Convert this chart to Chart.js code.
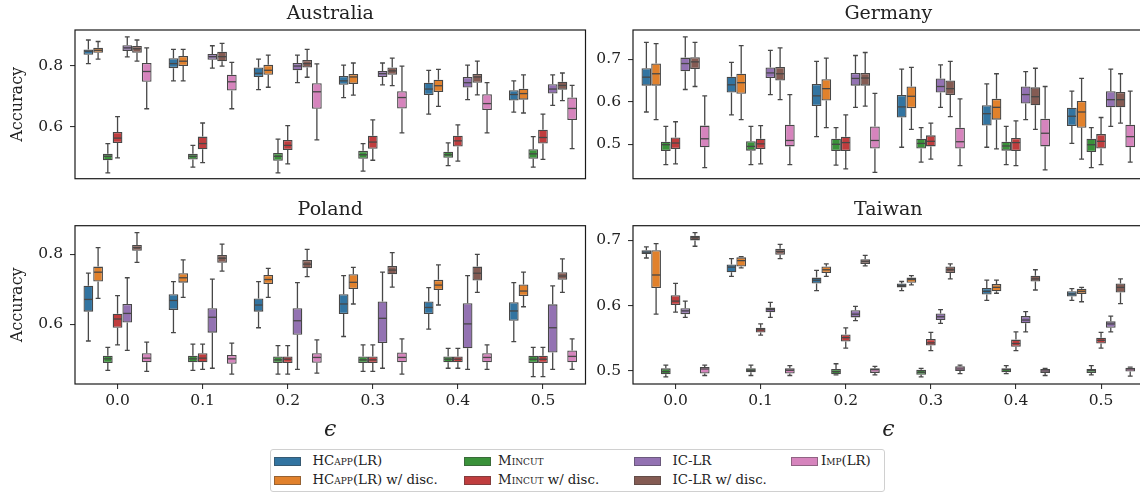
<!DOCTYPE html>
<html>
<head>
<meta charset="utf-8">
<script src="https://cdn.jsdelivr.net/npm/chart.js@4.4.1/dist/chart.umd.min.js"></script>
<style>
html,body{margin:0;padding:0;background:#fff;}
body{width:1140px;height:492px;overflow:hidden;position:relative;font-family:'DejaVu Serif',serif;color:#222;}
canvas{position:absolute;}
#legend{position:absolute;left:270px;top:449px;width:613px;height:41px;border:1px solid #d0d0d0;border-radius:3px;background:#fff;}
.sw{position:absolute;width:27px;height:9px;box-sizing:border-box;border:1px solid rgba(60,60,60,0.45);}
.lt{position:absolute;font-size:13.3px;line-height:16px;white-space:nowrap;color:#222;}
.sc{font-variant:small-caps;}
</style>
</head>
<body>
<canvas id="cAU" width="600" height="195" style="left:0px;top:0px"></canvas>
<canvas id="cDE" width="560" height="195" style="left:592px;top:0px"></canvas>
<canvas id="cPL" width="600" height="255" style="left:0px;top:195px"></canvas>
<canvas id="cTW" width="560" height="255" style="left:592px;top:195px"></canvas>
<div id="legend"></div>
<script>
// ---------------- DATA ----------------
const epsLabels = ['0.0', '0.1', '0.2', '0.3', '0.4', '0.5'];
const seriesNames = ['HCapp(LR)', 'HCapp(LR) w/ disc.', 'Mincut', 'Mincut w/ disc.', 'IC-LR', 'IC-LR w/ disc.', 'Imp(LR)'];
const seriesColors = ['#3274a1', '#e1812c', '#3a923a', '#c03d3e', '#9372b2', '#845b53', '#d684bd'];
// each box: [lower whisker, Q1, median, Q3, upper whisker], one per epsilon

// Australia
const AU_HCAPP = [[0.808,0.837,0.849,0.855,0.886],[0.751,0.793,0.808,0.826,0.855],[0.722,0.764,0.776,0.795,0.823],[0.696,0.738,0.751,0.767,0.803],[0.641,0.704,0.724,0.745,0.786],[0.648,0.686,0.706,0.720,0.751]];
const AU_HCAPP_D = [[0.823,0.844,0.852,0.860,0.881],[0.751,0.800,0.816,0.833,0.855],[0.730,0.771,0.786,0.804,0.836],[0.704,0.741,0.764,0.774,0.810],[0.667,0.714,0.735,0.755,0.789],[0.645,0.689,0.709,0.725,0.771]];
const AU_MINCUT = [[0.447,0.489,0.502,0.510,0.544],[0.466,0.491,0.502,0.510,0.538],[0.447,0.487,0.502,0.513,0.559],[0.453,0.494,0.507,0.520,0.544],[0.471,0.497,0.507,0.517,0.546],[0.466,0.494,0.510,0.525,0.567]];
const AU_MINCUT_D = [[0.497,0.546,0.562,0.582,0.633],[0.481,0.525,0.544,0.567,0.612],[0.477,0.523,0.538,0.556,0.603],[0.489,0.527,0.549,0.570,0.622],[0.486,0.534,0.553,0.570,0.606],[0.492,0.544,0.564,0.590,0.641]];
const AU_ICLR = [[0.830,0.850,0.860,0.869,0.896],[0.793,0.821,0.831,0.840,0.867],[0.745,0.786,0.800,0.810,0.836],[0.738,0.764,0.775,0.784,0.810],[0.689,0.729,0.745,0.764,0.803],[0.670,0.709,0.724,0.740,0.771]];
const AU_ICLR_D = [[0.816,0.844,0.857,0.866,0.886],[0.800,0.816,0.831,0.847,0.875],[0.763,0.795,0.808,0.820,0.855],[0.735,0.771,0.784,0.795,0.826],[0.705,0.745,0.764,0.774,0.816],[0.686,0.722,0.736,0.748,0.777]];
const AU_IMP = [[0.659,0.748,0.782,0.810,0.860],[0.659,0.719,0.748,0.771,0.812],[0.556,0.659,0.715,0.743,0.807],[0.579,0.660,0.696,0.717,0.800],[0.579,0.655,0.676,0.707,0.745],[0.527,0.622,0.660,0.696,0.736]];

// Germany
const DE_HCAPP = [[0.576,0.638,0.658,0.679,0.740],[0.569,0.622,0.640,0.659,0.693],[0.518,0.590,0.614,0.642,0.695],[0.493,0.563,0.588,0.616,0.677],[0.493,0.544,0.572,0.592,0.642],[0.502,0.543,0.566,0.586,0.625]];
const DE_HCAPP_D = [[0.558,0.638,0.666,0.690,0.737],[0.558,0.619,0.645,0.666,0.732],[0.539,0.603,0.631,0.653,0.703],[0.535,0.585,0.613,0.636,0.681],[0.489,0.558,0.587,0.607,0.666],[0.465,0.539,0.576,0.602,0.655]];
const DE_MINCUT = [[0.452,0.484,0.499,0.506,0.542],[0.452,0.485,0.495,0.507,0.542],[0.451,0.484,0.500,0.513,0.539],[0.458,0.490,0.502,0.513,0.539],[0.452,0.485,0.496,0.506,0.542],[0.445,0.482,0.499,0.513,0.539]];
const DE_MINCUT_D = [[0.454,0.489,0.503,0.516,0.553],[0.454,0.489,0.501,0.513,0.544],[0.442,0.484,0.504,0.518,0.569],[0.465,0.495,0.507,0.521,0.550],[0.450,0.484,0.504,0.515,0.555],[0.452,0.490,0.507,0.524,0.563]];
const DE_ICLR = [[0.629,0.672,0.690,0.704,0.753],[0.617,0.656,0.668,0.681,0.721],[0.587,0.638,0.655,0.668,0.709],[0.587,0.622,0.636,0.655,0.687],[0.558,0.596,0.617,0.636,0.671],[0.542,0.587,0.605,0.625,0.677]];
const DE_ICLR_D = [[0.636,0.677,0.694,0.705,0.740],[0.605,0.650,0.666,0.682,0.727],[0.590,0.638,0.656,0.668,0.716],[0.565,0.616,0.631,0.650,0.695],[0.535,0.592,0.612,0.634,0.679],[0.550,0.587,0.605,0.623,0.666]];
const DE_IMP = [[0.445,0.493,0.513,0.544,0.614],[0.452,0.495,0.509,0.546,0.617],[0.434,0.490,0.509,0.542,0.620],[0.450,0.490,0.506,0.539,0.607],[0.440,0.495,0.526,0.560,0.636],[0.458,0.493,0.518,0.546,0.625]];

// Poland
const PL_HCAPP = [[0.552,0.636,0.671,0.710,0.746],[0.576,0.641,0.668,0.686,0.722],[0.590,0.636,0.655,0.674,0.722],[0.565,0.629,0.658,0.686,0.739],[0.586,0.629,0.648,0.665,0.705],[0.550,0.610,0.638,0.663,0.719]];
const PL_HCAPP_D = [[0.674,0.722,0.749,0.765,0.819],[0.677,0.719,0.733,0.746,0.784],[0.677,0.715,0.728,0.741,0.760],[0.658,0.701,0.720,0.743,0.763],[0.655,0.698,0.712,0.727,0.770],[0.650,0.681,0.695,0.714,0.749]];
const PL_MINCUT = [[0.468,0.489,0.501,0.510,0.534],[0.468,0.491,0.501,0.510,0.543],[0.457,0.489,0.498,0.508,0.539],[0.465,0.489,0.498,0.508,0.541],[0.474,0.491,0.500,0.508,0.531],[0.450,0.489,0.500,0.510,0.534]];
const PL_MINCUT_D = [[0.541,0.590,0.615,0.630,0.682],[0.471,0.491,0.503,0.517,0.543],[0.457,0.489,0.500,0.508,0.539],[0.465,0.489,0.498,0.508,0.541],[0.474,0.491,0.500,0.508,0.531],[0.450,0.489,0.500,0.510,0.534]];
const PL_ICLR = [[0.525,0.605,0.631,0.658,0.733],[0.474,0.576,0.620,0.646,0.729],[0.471,0.570,0.610,0.646,0.719],[0.474,0.546,0.617,0.665,0.749],[0.471,0.531,0.601,0.660,0.739],[0.471,0.519,0.590,0.657,0.710]];
const PL_ICLR_D = [[0.777,0.810,0.819,0.827,0.862],[0.752,0.776,0.789,0.798,0.829],[0.736,0.760,0.772,0.784,0.814],[0.706,0.743,0.755,0.767,0.805],[0.691,0.725,0.746,0.765,0.800],[0.691,0.727,0.738,0.749,0.787]];
const PL_IMP = [[0.465,0.491,0.503,0.517,0.549],[0.457,0.487,0.501,0.512,0.546],[0.460,0.490,0.505,0.517,0.555],[0.457,0.491,0.505,0.519,0.558],[0.471,0.491,0.505,0.517,0.541],[0.471,0.491,0.508,0.525,0.558]];

// Taiwan
const TW_HCAPP = [[0.673,0.679,0.682,0.685,0.690],[0.645,0.651,0.659,0.663,0.672],[0.623,0.634,0.639,0.643,0.654],[0.623,0.628,0.631,0.634,0.637],[0.608,0.617,0.622,0.627,0.639],[0.608,0.614,0.618,0.622,0.626]];
const TW_HCAPP_D = [[0.587,0.627,0.647,0.685,0.695],[0.658,0.660,0.669,0.674,0.675],[0.645,0.650,0.655,0.660,0.664],[0.632,0.635,0.640,0.643,0.646],[0.619,0.622,0.628,0.633,0.639],[0.606,0.618,0.622,0.626,0.628]];
const TW_MINCUT = [[0.491,0.495,0.499,0.504,0.509],[0.493,0.498,0.501,0.504,0.509],[0.494,0.495,0.499,0.503,0.511],[0.491,0.494,0.498,0.502,0.504],[0.496,0.498,0.502,0.504,0.508],[0.494,0.497,0.501,0.503,0.508]];
const TW_MINCUT_D = [[0.590,0.601,0.607,0.616,0.634],[0.555,0.559,0.563,0.566,0.572],[0.535,0.545,0.551,0.556,0.566],[0.531,0.539,0.543,0.549,0.559],[0.531,0.537,0.542,0.548,0.560],[0.535,0.542,0.547,0.551,0.559]];
const TW_ICLR = [[0.582,0.587,0.592,0.596,0.607],[0.582,0.590,0.594,0.597,0.605],[0.577,0.582,0.587,0.593,0.599],[0.573,0.578,0.583,0.588,0.594],[0.560,0.573,0.578,0.584,0.591],[0.560,0.566,0.572,0.576,0.584]];
const TW_ICLR_D = [[0.691,0.700,0.704,0.707,0.712],[0.672,0.678,0.683,0.687,0.694],[0.661,0.664,0.668,0.671,0.677],[0.641,0.650,0.655,0.660,0.664],[0.624,0.637,0.641,0.646,0.655],[0.603,0.620,0.628,0.634,0.641]];
const TW_IMP = [[0.493,0.496,0.503,0.506,0.509],[0.493,0.496,0.501,0.504,0.508],[0.494,0.497,0.502,0.504,0.507],[0.496,0.500,0.503,0.507,0.509],[0.493,0.497,0.500,0.503,0.504],[0.492,0.499,0.503,0.505,0.506]];

// y-axis ranges and tick labels per panel
const AU_Y = {min: 0.428, max: 0.919}; const AU_TICKS = [0.6, 0.8];
const DE_Y = {min: 0.419, max: 0.769}; const DE_TICKS = [0.5, 0.6, 0.7];
const PL_Y = {min: 0.429, max: 0.882}; const PL_TICKS = [0.6, 0.8];
const TW_Y = {min: 0.480, max: 0.7225}; const TW_TICKS = [0.5, 0.6, 0.7];

// ---------------- DRAWING ----------------
Chart.defaults.font.family = "'DejaVu Serif', serif";
Chart.defaults.color = '#222';
const LINE = '#474747';

const boxPlugin = {
  id: 'boxWhiskers',
  afterDatasetsDraw(chart) {
    const ctx = chart.ctx, ys = chart.scales.y;
    ctx.save();
    ctx.strokeStyle = LINE;
    ctx.lineWidth = 1.3;
    chart.data.datasets.forEach((ds, i) => {
      const meta = chart.getDatasetMeta(i);
      meta.data.forEach((el, j) => {
        const s = ds.stats[j];
        const x = el.x, w = el.width;
        const pl = ys.getPixelForValue(s[0]), p1 = ys.getPixelForValue(s[1]),
              pm = ys.getPixelForValue(s[2]), p3 = ys.getPixelForValue(s[3]),
              ph = ys.getPixelForValue(s[4]);
        ctx.beginPath();
        ctx.moveTo(x, p3); ctx.lineTo(x, ph);
        ctx.moveTo(x, p1); ctx.lineTo(x, pl);
        ctx.moveTo(x - w / 4, ph); ctx.lineTo(x + w / 4, ph);
        ctx.moveTo(x - w / 4, pl); ctx.lineTo(x + w / 4, pl);
        ctx.stroke();
        ctx.beginPath();
        ctx.moveTo(x - w / 2 + 0.7, pm); ctx.lineTo(x + w / 2 - 0.7, pm);
        ctx.stroke();
      });
    });
    ctx.restore();
  },
  afterDraw(chart) {
    const a = chart.chartArea, ctx = chart.ctx;
    ctx.save();
    ctx.strokeStyle = '#1a1a1a';
    ctx.lineWidth = 1.2;
    ctx.strokeRect(a.left, a.top, a.right - a.left, a.bottom - a.top);
    ctx.restore();
  }
};

function makePanel(id, title, groups, yr, yTicks, opts) {
  const datasets = groups.map((stats, k) => ({
    label: seriesNames[k],
    data: stats.map(s => [s[1], s[3]]),
    stats: stats,
    backgroundColor: seriesColors[k],
    borderColor: LINE,
    borderWidth: 1.3,
    borderSkipped: false,
    categoryPercentage: 0.8,
    barPercentage: 1.0
  }));
  return new Chart(document.getElementById(id), {
    type: 'bar',
    data: {labels: epsLabels, datasets},
    plugins: [boxPlugin],
    options: {
      responsive: false,
      animation: false,
      events: [],
      layout: {padding: opts.padding},
      plugins: {
        legend: {display: false},
        tooltip: {enabled: false},
        title: {
          display: true, text: title, fullSize: false,
          color: '#222',
          font: {size: 19, weight: 'normal'},
          padding: opts.titlePad
        }
      },
      scales: {
        x: {
          type: 'category',
          display: opts.showX,
          offset: true,
          grid: {display: true, offset: false, drawOnChartArea: false, drawTicks: true, tickLength: 5, color: '#333', lineWidth: 1.1},
          border: {display: false},
          ticks: {color: '#222', font: {size: 15.5}, padding: 3, maxRotation: 0},
          title: {display: true, text: 'ϵ', color: '#222', font: {size: 22, style: 'italic'}, padding: {top: 0, bottom: 7}},
          afterFit(s) { s.height = opts.showX ? 66 : 0; }
        },
        y: {
          min: yr.min, max: yr.max,
          afterBuildTicks(s) { s.ticks = yTicks.map(v => ({value: v})); },
          grid: {drawOnChartArea: false, drawTicks: true, tickLength: 5, color: '#333', lineWidth: 1.1},
          border: {display: false},
          ticks: {color: '#222', font: {size: 15.5}, padding: 7, callback: v => Number(v).toFixed(1)},
          title: {display: opts.yTitle, text: 'Accuracy', color: '#222', font: {size: 16}, padding: {top: 8.5, bottom: 0}},
          afterFit(s) { s.width = opts.yWidth; }
        }
      }
    }
  });
}

makePanel('cAU', 'Australia', [AU_HCAPP, AU_HCAPP_D, AU_MINCUT, AU_MINCUT_D, AU_ICLR, AU_ICLR_D, AU_IMP], AU_Y, AU_TICKS,
  {showX: false, yTitle: true, yWidth: 75, padding: {left: 0, right: 14.5, top: 0, bottom: 7}, titlePad: {top: 2.5, bottom: 4.7}});
makePanel('cDE', 'Germany', [DE_HCAPP, DE_HCAPP_D, DE_MINCUT, DE_MINCUT_D, DE_ICLR, DE_ICLR_D, DE_IMP], DE_Y, DE_TICKS,
  {showX: false, yTitle: false, yWidth: 41, padding: {left: 0, right: 8.4, top: 0, bottom: 7}, titlePad: {top: 2.5, bottom: 4.7}});
makePanel('cPL', 'Poland', [PL_HCAPP, PL_HCAPP_D, PL_MINCUT, PL_MINCUT_D, PL_ICLR, PL_ICLR_D, PL_IMP], PL_Y, PL_TICKS,
  {showX: true, yTitle: true, yWidth: 75, padding: {left: 0, right: 14.5, top: 0, bottom: 0}, titlePad: {top: 3.2, bottom: 4.7}});
makePanel('cTW', 'Taiwan', [TW_HCAPP, TW_HCAPP_D, TW_MINCUT, TW_MINCUT_D, TW_ICLR, TW_ICLR_D, TW_IMP], TW_Y, TW_TICKS,
  {showX: true, yTitle: false, yWidth: 41, padding: {left: 0, right: 8.4, top: 0, bottom: 0}, titlePad: {top: 3.2, bottom: 4.7}});

// ---------------- LEGEND (column-major, 2 rows) ----------------
function fmtName(n) {
  return n.replace(/^HCapp/, 'HC<span class="sc">app</span>')
          .replace(/^Mincut/, 'M<span class="sc">incut</span>')
          .replace(/^Imp/, 'I<span class="sc">mp</span>');
}
const legendSwatchX = [3, 193, 363, 520];
const legendTextX = [41.5, 227, 401.5, 550];
const legendRowY = [11.3, 30];
const lg = document.getElementById('legend');
seriesNames.forEach((n, i) => {
  const col = Math.floor(i / 2), row = i % 2;
  const sw = document.createElement('div');
  sw.className = 'sw';
  sw.style.left = legendSwatchX[col] + 'px';
  sw.style.top = (legendRowY[row] - 4.5) + 'px';
  sw.style.background = seriesColors[i];
  lg.appendChild(sw);
  const t = document.createElement('div');
  t.className = 'lt';
  t.style.left = legendTextX[col] + 'px';
  t.style.top = (legendRowY[row] - 8) + 'px';
  t.innerHTML = fmtName(n);
  lg.appendChild(t);
});
</script>
</body>
</html>
